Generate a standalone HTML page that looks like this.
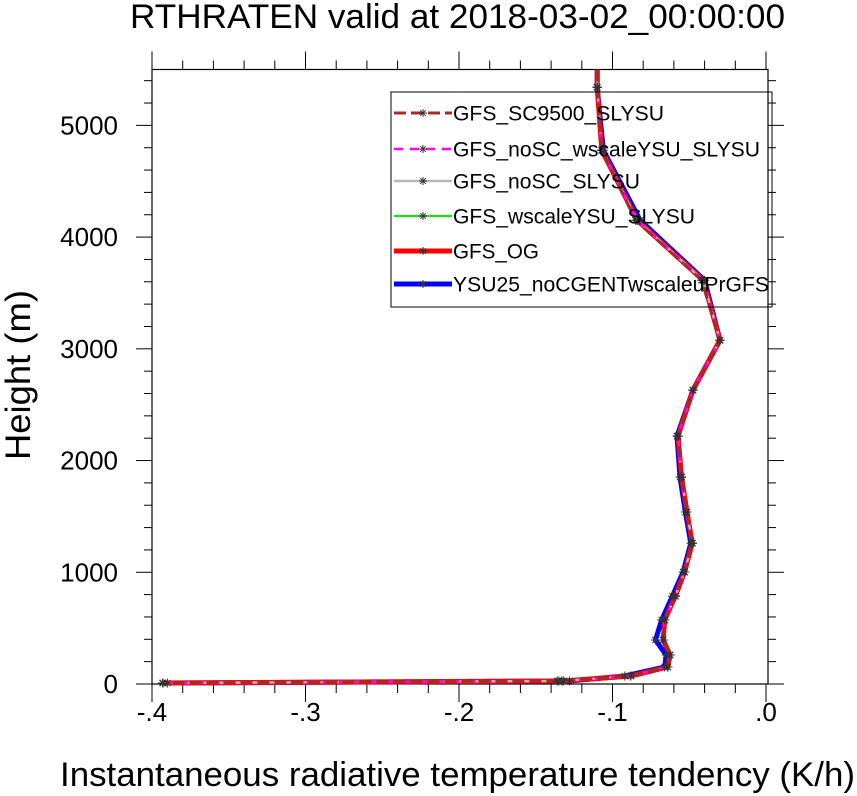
<!DOCTYPE html>
<html><head><meta charset="utf-8"><style>
body{margin:0;background:#fff;}
svg{display:block;font-family:"Liberation Sans",sans-serif;}
</style></head><body>
<svg id="chart" width="857" height="796" viewBox="0 0 857 796" xmlns="http://www.w3.org/2000/svg">
<text x="130" y="28" font-size="34" textLength="655" lengthAdjust="spacingAndGlyphs">RTHRATEN valid at 2018-03-02_00:00:00</text>
<g id="axes"></g>
<g id="series"></g>
<text transform="translate(30,460) rotate(-90)" font-size="35" textLength="170" lengthAdjust="spacingAndGlyphs">Height (m)</text>
<text x="60" y="786" font-size="34" textLength="795" lengthAdjust="spacingAndGlyphs">Instantaneous radiative temperature tendency (K/h)</text>
<g id="legend"></g>
</svg>
<script>
const heights = [5500, 5341, 4777, 4151, 3614, 3077, 2630, 2219, 1852, 1539, 1261, 1002, 787, 573, 394, 260, 152, 72, 27, 9];
const xOG = [-0.110, -0.110, -0.107, -0.084, -0.041, -0.030, -0.0476, -0.0573, -0.055, -0.0515, -0.048, -0.053, -0.059, -0.066, -0.067, -0.0625, -0.064, -0.088, -0.132, -0.393];
const xYSU25 = [-0.110, -0.110, -0.106, -0.082, -0.040, -0.030, -0.0476, -0.0580, -0.056, -0.0525, -0.049, -0.054, -0.061, -0.068, -0.072, -0.0650, -0.066, -0.092, -0.128, -0.390];
const xSC9500 = [-0.110, -0.110, -0.107, -0.085, -0.042, -0.030, -0.0476, -0.0573, -0.055, -0.0515, -0.048, -0.053, -0.059, -0.066, -0.067, -0.0625, -0.064, -0.088, -0.136, -0.393];
const xNoSCwscale = [-0.110, -0.110, -0.107, -0.084, -0.041, -0.030, -0.0476, -0.0573, -0.055, -0.0515, -0.048, -0.053, -0.059, -0.066, -0.067, -0.0625, -0.064, -0.088, -0.135, -0.393];
const xNoSC = [-0.110, -0.110, -0.107, -0.084, -0.041, -0.030, -0.0476, -0.0573, -0.055, -0.0515, -0.048, -0.053, -0.059, -0.066, -0.067, -0.0625, -0.064, -0.088, -0.133, -0.393];
const xWscale = [-0.110, -0.110, -0.107, -0.084, -0.041, -0.030, -0.0476, -0.0573, -0.055, -0.0515, -0.048, -0.053, -0.059, -0.066, -0.067, -0.0625, -0.064, -0.088, -0.133, -0.393];
const xTickValues = [-0.4, -0.3, -0.2, -0.1, 0.0];
const xTickLabels = ["-.4", "-.3", "-.2", "-.1", ".0"];
const yTickValues = [0, 1000, 2000, 3000, 4000, 5000];
const seriesNames = ["GFS_SC9500_SLYSU", "GFS_noSC_wscaleYSU_SLYSU", "GFS_noSC_SLYSU", "GFS_wscaleYSU_SLYSU", "GFS_OG", "YSU25_noCGENTwscaleuPrGFS"];

const NS = "http://www.w3.org/2000/svg";
const L = 152, R = 768, T = 69.5, B = 684;
const X0 = -0.4, X1 = 0.0013, Y0 = 0, Y1 = 5500;
function sx(v){ return L + (v - X0) / (X1 - X0) * (R - L); }
function sy(v){ return B - (v - Y0) / (Y1 - Y0) * (B - T); }
function mk(tag, attrs, parent){ const e = document.createElementNS(NS, tag); for (const k in attrs) e.setAttribute(k, attrs[k]); parent.appendChild(e); return e; }

const axes = document.getElementById('axes');
const frame = mk('rect', {x:L, y:T, width:R-L, height:B-T, fill:'none', stroke:'#000', 'stroke-width':1.2}, axes);


for (let v = -0.4; v <= 0.0001; v += 0.02) {
  const major = Math.abs(Math.round(v*10) - v*10) < 1e-6;
  const x = sx(v), len = major ? 18 : 9;
  const t1 = mk('line', {x1:x, x2:x, y1:B, y2:B+len, stroke:'#000', 'stroke-width':1}, axes);
  
  
  const t2 = mk('line', {x1:x, x2:x, y1:T, y2:T-len, stroke:'#000', 'stroke-width':1}, axes);
  
  
}
xTickValues.forEach((v, i) => {
  const t = mk('text', {x:sx(v), y:721, 'font-size':26, 'text-anchor':'middle'}, axes);
  t.textContent = xTickLabels[i];
  
  
});
for (let v = 0; v <= 5400; v += 200) {
  const major = v % 1000 === 0;
  const y = sy(v), len = major ? 16 : 8;
  const t1 = mk('line', {x1:L, x2:L-len, y1:y, y2:y, stroke:'#000', 'stroke-width':1}, axes);
  
  
  const t2 = mk('line', {x1:R, x2:R+len, y1:y, y2:y, stroke:'#000', 'stroke-width':1}, axes);
  
  
}
yTickValues.forEach(v => {
  const t = mk('text', {x:118, y:sy(v)+9, 'font-size':26, 'text-anchor':'end'}, axes);
  t.textContent = String(v);
  
  
});

const styles = [
  {data:xYSU25, color:'#0000ff', w:5, dash:null, name:seriesNames[5]},
  {data:xOG, color:'#ff0000', w:5, dash:null, name:seriesNames[4]},
  {data:xWscale, color:'#00ee00', w:2, dash:null, name:seriesNames[3]},
  {data:xNoSC, color:'#b8b8b8', w:2.5, dash:null, name:seriesNames[2]},
  {data:xNoSCwscale, color:'#ff00ff', w:2.5, dash:'9,7', name:seriesNames[1]},
  {data:xSC9500, color:'#a52a2a', w:3, dash:'12,5', name:seriesNames[0]}
];
const sg = document.getElementById('series');
styles.forEach(s => {
  const pts = s.data.map((v, i) => sx(v).toFixed(1) + ',' + sy(heights[i]).toFixed(1)).join(' ');
  const a = {points:pts, fill:'none', stroke:s.color, 'stroke-width':s.w, 'stroke-linejoin':'round'};
  if (s.dash) a['stroke-dasharray'] = s.dash;
  const pl = mk('polyline', a, sg);
  
  
});
function star(g, x, y, r){
  const d = `M${x-r},${y}H${x+r}M${x},${y-r}V${y+r}M${x-r*0.7},${y-r*0.7}L${x+r*0.7},${y+r*0.7}M${x-r*0.7},${y+r*0.7}L${x+r*0.7},${y-r*0.7}`;
  const p = mk('path', {d:d, stroke:'#333', 'stroke-width':1, fill:'none'}, g);
  
  
}
styles.forEach(s => {
  s.data.forEach((v, i) => { if (i > 0) star(sg, sx(v), sy(heights[i]), 4.5); });
});

const lg = document.getElementById('legend');
const box = mk('rect', {x:391, y:92, width:381, height:215, fill:'none', stroke:'#000', 'stroke-width':1}, lg);


const legOrder = [5, 4, 3, 2, 1, 0];
const rowY = [113, 149, 181, 216, 251, 284];
const legW = [211, 307, 187, 242, 86, 316];
legOrder.forEach((si, r) => {
  const s = styles[si], y = rowY[r];
  const a = {x1:394, x2:452, y1:y, y2:y, stroke:s.color, 'stroke-width':s.w};
  if (s.dash) a['stroke-dasharray'] = s.dash;
  const ln = mk('line', a, lg);
  
  
  star(lg, 423, y, 4);
  const t = mk('text', {x:453, y:y+7.5, 'font-size':21, textLength:legW[r], lengthAdjust:'spacingAndGlyphs'}, lg);
  t.textContent = s.name;
  
  
});
</script>
</body></html>
